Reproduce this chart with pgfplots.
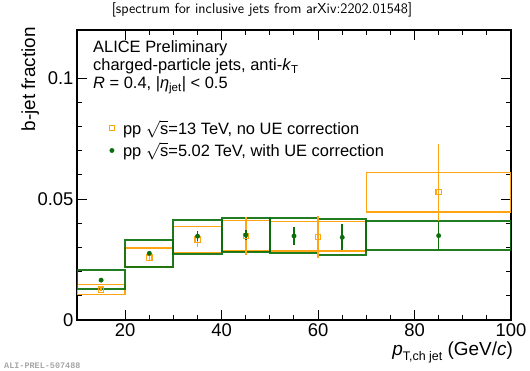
\documentclass[border=0pt]{standalone}
\usepackage{pgfplots}
\pgfplotsset{compat=1.18}
\usepackage{pgfplotstable}
\usepackage{fontspec}
\usepackage{amsmath}
\setmainfont{Liberation Sans}
\newfontfamily\wmfont{Liberation Mono}
\definecolor{aorange}{RGB}{255,165,20}
\definecolor{agreen}{RGB}{10,110,10}

% 13 TeV, no UE correction
\pgfplotstableread{
x y ey xlo xhi ylo yhi
15 0.0126 0.0005 10 20 0.0106 0.0147
25 0.0258 0.0012 20 30 0.0220 0.0297
35 0.0333 0.0033 30 40 0.0279 0.0387
45 0.0348 0.0080 40 50 0.0285 0.0412
60 0.0343 0.0088 50 70 0.0286 0.0407
85 0.0530 0.0200 70 100 0.0446 0.0611
}\orangetab

% 5.02 TeV, with UE correction
\pgfplotstableread{
x y ey xlo xhi ylo yhi
15 0.0165 0.0008 10 20 0.0127 0.0207
25 0.0276 0.0010 20 30 0.0220 0.0330
35 0.0347 0.0020 30 40 0.0275 0.0413
45 0.0352 0.0020 40 50 0.0280 0.0421
55 0.0348 0.0037 50 60 0.0276 0.0420
65 0.0342 0.0054 60 70 0.0269 0.0417
85 0.0349 0.0060 70 100 0.0290 0.0410
}\greentab

\newcommand{\drawboxes}[3]{%
  \pgfplotsinvokeforeach{0,...,#3}{%
    \pgfplotstablegetelem{##1}{xlo}\of#1\edef\bxl{\pgfplotsretval}%
    \pgfplotstablegetelem{##1}{xhi}\of#1\edef\bxh{\pgfplotsretval}%
    \pgfplotstablegetelem{##1}{ylo}\of#1\edef\byl{\pgfplotsretval}%
    \pgfplotstablegetelem{##1}{yhi}\of#1\edef\byh{\pgfplotsretval}%
    \edef\doit{\noexpand\addplot[#2, forget plot] coordinates {(\bxl,\byl) (\bxh,\byl) (\bxh,\byh) (\bxl,\byh)} -- cycle;}%
    \doit
  }%
}

\begin{document}
\begin{tikzpicture}
\useasboundingbox (0,0) rectangle (530bp,371bp);
\begin{axis}[
  at={(77bp,51bp)}, anchor=south west,
  scale only axis, width=434bp, height=290bp,
  xmin=10, xmax=100, ymin=0, ymax=0.12,
  xtick={20,40,60,80,100}, xticklabels={20,40,60,80,100},
  minor x tick num=3,
  ytick={0,0.05,0.1}, yticklabels={0,0.05,0.1},
  minor y tick num=4,
  scaled y ticks=false,
  tick align=inside,
  major tick length=10bp, minor tick length=5bp,
  axis line style={line width=1.2bp},
  tick style={line width=1bp, black},
  ticklabel style={font=\fontsize{18.5}{20}\selectfont},
  /pgf/number format/assume math mode=true,
  gbox/.style={draw=agreen, line width=2bp, opacity=0.9},
  obox/.style={draw=aorange, line width=1.5bp},
  legend style={at={(rel axis cs:0.074,0.695)}, anchor=north west, draw=none, fill=none,
    font=\fontsize{16.5}{18}\selectfont, row sep=3.5bp, inner sep=0pt,
    nodes={inner sep=1.5bp},
    /tikz/every odd column/.append style={column sep=7bp}},
  legend cell align=left,
  legend image code/.code={\draw[#1] plot coordinates {(0bp,0bp)};},
]
\drawboxes{\orangetab}{obox}{5}
\drawboxes{\greentab}{gbox}{6}

\addplot[only marks, mark=square, mark size=2.6bp, color=aorange,
  mark options={line width=1.2bp, fill=white},
  error bars/.cd, y dir=both, y explicit,
  error bar style={line width=1.5bp, aorange}, error mark=none]
  table[x=x, y=y, y error=ey]{\orangetab};
\addlegendentry{pp $\sqrt{\text{s}}$=13 TeV, no UE correction}

\addplot[only marks, mark=*, mark size=2.2bp, color=agreen,
  error bars/.cd, y dir=both, y explicit,
  error bar style={line width=1.5bp, agreen}, error mark=none]
  table[x=x, y=y, y error=ey]{\greentab};
\addlegendentry{pp $\sqrt{\text{s}}$=5.02 TeV, with UE correction}
\end{axis}

\node[anchor=base, font=\sffamily\fontsize{14.5}{16}\selectfont] at (262bp,357bp)
  {[spectrum for inclusive jets from arXiv:2202.01548]};

\begin{scope}[every node/.style={anchor=base west, inner sep=0pt, font=\fontsize{16.5}{18}\selectfont}]
\node at (93bp,318.5bp) {ALICE Preliminary};
\node at (93bp,300.5bp) {charged-particle jets, anti-\textit{k}\textsubscript{T}};
\node at (93bp,282bp) {\textit{R} = 0.4, |\textit{η}\textsubscript{jet}| < 0.5};
\end{scope}

\node[rotate=90, anchor=base east, inner sep=0pt, font=\fontsize{19}{20}\selectfont]
  at (35bp,344bp) {b-jet fraction};

\node[anchor=base east, inner sep=0pt, font=\fontsize{19}{20}\selectfont]
  at (513bp,16bp) {\textit{p}\raisebox{-5bp}{\fontsize{12.5}{13}\selectfont T,ch jet} (GeV/\textit{c})};

\node[anchor=base west, inner sep=0pt, text=black!35, font=\wmfont\bfseries\fontsize{8.5}{9}\selectfont]
  at (4bp,3bp) {ALI-PREL-507488};
\end{tikzpicture}
\end{document}
